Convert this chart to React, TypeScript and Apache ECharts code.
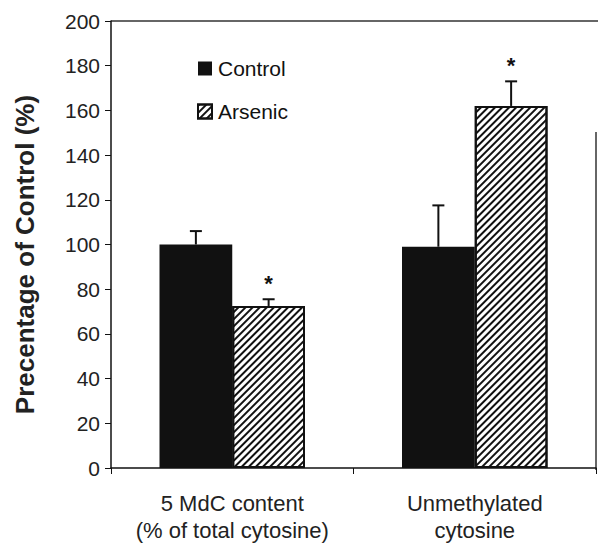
import React, { useEffect, useRef } from "react";
import * as echarts from "echarts";

const categories = ["5 MdC content\n(% of total cytosine)", "Unmethylated\ncytosine"];
const seriesNames = ["Control", "Arsenic"];
const controlValues = [100, 99];
const controlErrors = [6, 18.5];
const arsenicValues = [72.5, 162];
const arsenicErrors = [3, 11];
const arsenicSignificant = [true, true];
const yTicks = { min: 0, max: 200, interval: 20 };

export default function App() {
  const ref = useRef<HTMLDivElement>(null);
  useEffect(() => {
    const chart = echarts.init(ref.current!, null, { renderer: "svg" });
    const font = "Liberation Sans, Arial, sans-serif";
    const errSeries = (vals: number[], errs: number[], sign: number, stars?: boolean[]) => ({
      type: "custom",
      silent: true,
      z: 5,
      data: vals.map((v, i) => [i, v, errs[i], stars && stars[i] ? 1 : 0]),
      renderItem: (params: any, api: any) => {
        const idx = api.value(0);
        const v = api.value(1);
        const e = api.value(2);
        const catW = api.size([1, 0])[0];
        const base = api.coord([idx, v]);
        const top = api.coord([idx, v + e]);
        const x = base[0] + sign * catW * 0.15;
        const children: any[] = [
          { type: "line", shape: { x1: x, y1: base[1], x2: x, y2: top[1] }, style: { stroke: "#111", lineWidth: 2 } },
          { type: "line", shape: { x1: x - 6, y1: top[1], x2: x + 6, y2: top[1] }, style: { stroke: "#111", lineWidth: 2 } },
        ];
        if (api.value(3)) {
          children.push({
            type: "text",
            style: { text: "*", x: x, y: top[1] - 5, align: "center", verticalAlign: "bottom", fontSize: 22, fontWeight: "bold", fontFamily: font, fill: "#111" },
          });
        }
        return { type: "group", children };
      },
    });
    chart.setOption({
      animation: false,
      backgroundColor: "#fff",
      grid: { left: 111, top: 21, right: 2, bottom: 77, containLabel: false, outerBoundsMode: "none" },
      legend: {
        data: seriesNames,
        orient: "vertical",
        left: 197,
        top: 58,
        padding: 0,
        icon: "rect",
        itemWidth: 14,
        itemHeight: 14,
        itemGap: 22,
        textStyle: { fontSize: 21, fontFamily: font, color: "#111", padding: [0, 0, 0, 1] },
      },
      xAxis: {
        type: "category",
        data: categories,
        axisLine: { lineStyle: { color: "#111", width: 1.5 } },
        axisTick: { show: true, length: 6, lineStyle: { color: "#111" } },
        axisLabel: { interval: 0, hideOverlap: false, fontSize: 22, fontFamily: font, color: "#222", lineHeight: 27, margin: 22 },
      },
      yAxis: {
        type: "value",
        min: yTicks.min,
        max: yTicks.max,
        interval: yTicks.interval,
        name: "Precentage of Control (%)",
        nameLocation: "middle",
        nameGap: 73,
        nameTextStyle: { fontSize: 26, fontWeight: "bold", fontFamily: font, color: "#222", padding: [0, 20, 0, 0] },
        axisLine: { show: true, lineStyle: { color: "#111", width: 1.5 } },
        axisTick: { show: true, length: 6, lineStyle: { color: "#111" } },
        axisLabel: { fontSize: 21, fontFamily: font, color: "#222", margin: 11 },
        splitLine: { show: false },
      },
      graphic: [
        { type: "line", shape: { x1: 111, y1: 21, x2: 598, y2: 21 }, style: { stroke: "#333", lineWidth: 1.5 } },
        { type: "line", shape: { x1: 596, y1: 132, x2: 596, y2: 470 }, style: { stroke: "#333", lineWidth: 1.5 } },
      ],
      series: [
        {
          name: seriesNames[0],
          type: "bar",
          data: controlValues,
          barGap: "0%",
          barCategoryGap: "40%",
          itemStyle: { color: "#111" },
        },
        {
          name: seriesNames[1],
          type: "bar",
          data: arsenicValues,
          itemStyle: {
            color: "#fff",
            borderColor: "#111",
            borderWidth: 2,
            decal: {
              symbol: "rect",
              symbolSize: 1,
              dashArrayX: [1, 0],
              dashArrayY: [2, 3],
              rotation: -Math.PI / 4,
              color: "#111",
              backgroundColor: "#fff",
            },
          },
        },
        errSeries(controlValues, controlErrors, -1),
        errSeries(arsenicValues, arsenicErrors, 1, arsenicSignificant),
      ],
    });
    return () => chart.dispose();
  }, []);
  return <div ref={ref} style={{ width: 598, height: 545, position: "absolute", left: 0, top: 0 }} />;
}
